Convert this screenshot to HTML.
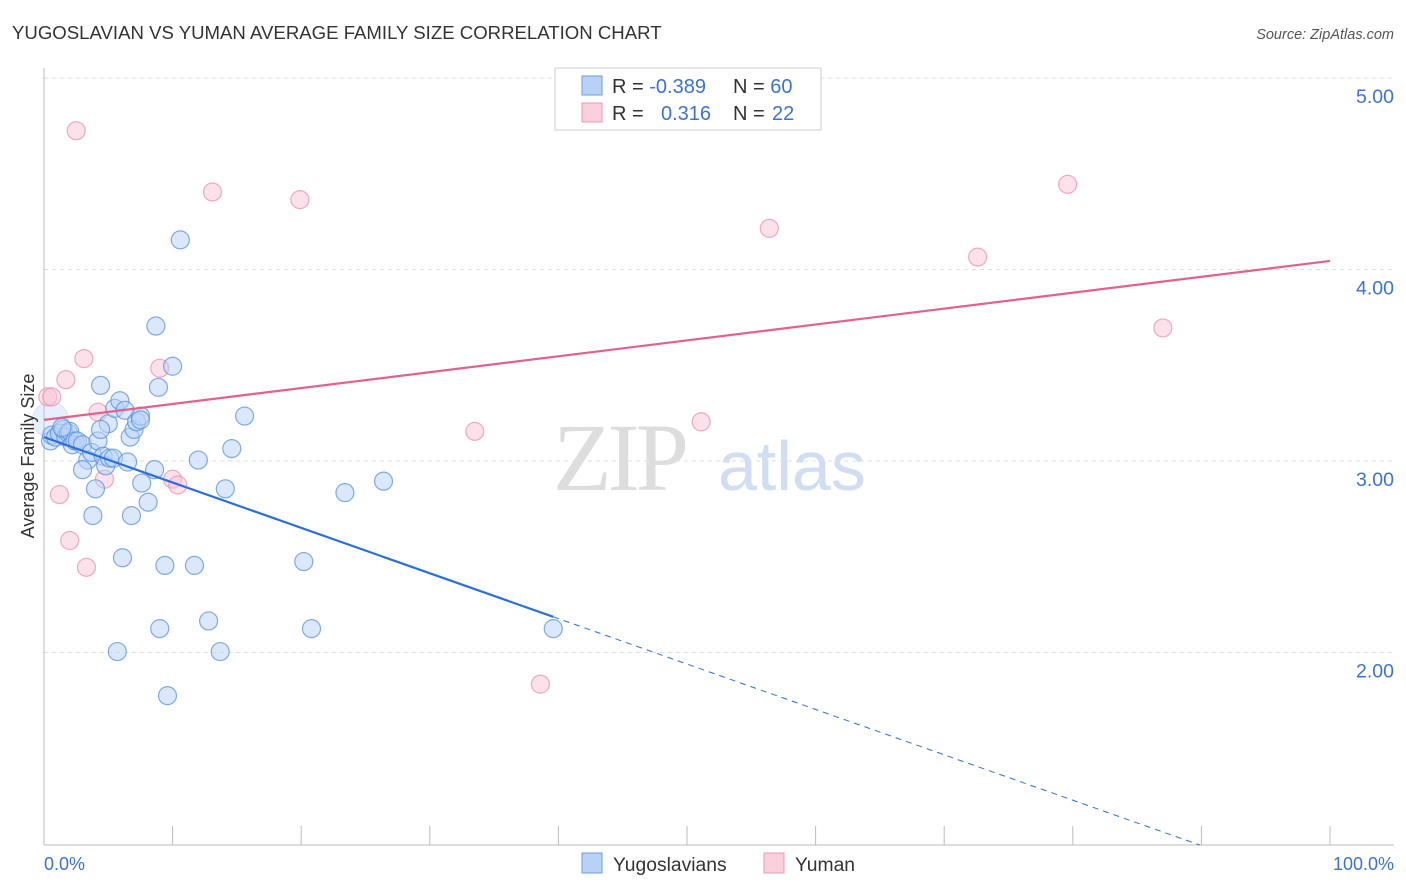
<!DOCTYPE html>
<html><head><meta charset="utf-8"><style>
body{margin:0;background:#fff;font-family:"Liberation Sans",sans-serif;}
svg{display:block}
</style></head><body>
<svg id="chart" width="1406" height="892">
<text x="12" y="39" font-size="18.6" fill="#333">YUGOSLAVIAN VS YUMAN AVERAGE FAMILY SIZE CORRELATION CHART</text>
<text x="1394" y="39" font-size="14.5" fill="#555" text-anchor="end" font-style="italic">Source: ZipAtlas.com</text>
<g>
<text x="553" y="490" font-size="96" fill="#ddd" font-family="Liberation Serif,serif" letter-spacing="-4">ZIP</text>
<text x="718" y="490" font-size="70" fill="#d0def3">atlas</text>
</g>
<g id="grid"></g>
<g id="axes"></g>
<g id="marks"></g>
<text transform="translate(34,456) rotate(-90)" font-size="18" fill="#333" text-anchor="middle">Average Family Size</text>
<text x="44" y="870" font-size="18" fill="#3a72d8">0.0%</text>
<text x="1394" y="870" font-size="18" fill="#3a72d8" text-anchor="end">100.0%</text>
<g>
<rect x="555" y="68" width="266" height="62" fill="#fff" stroke="#ccc"/>
<rect x="582" y="76" width="20" height="19" fill="#b8d2f5" stroke="#6b9de0"/>
<rect x="582" y="103" width="20" height="19" fill="#fbcfdb" stroke="#ee9ab4"/>
<text x="612" y="93" font-size="20" fill="#333">R = <tspan fill="#3a72d8">-0.389</tspan></text>
<text x="733" y="93" font-size="20" fill="#333">N = <tspan fill="#3a72d8">60</tspan></text>
<text x="612" y="120" font-size="20" fill="#333">R = <tspan fill="#3a72d8" x="661">0.316</tspan></text>
<text x="733" y="120" font-size="20" fill="#333">N = <tspan fill="#3a72d8" x="772">22</tspan></text>
</g>
<g>
<rect x="582" y="853" width="20" height="20" fill="#b8d2f5" stroke="#6b9de0"/>
<text x="613" y="871" font-size="19.3" fill="#333">Yugoslavians</text>
<rect x="764" y="853" width="20" height="20" fill="#fbcfdb" stroke="#ee9ab4"/>
<text x="795" y="871" font-size="19.3" fill="#333">Yuman</text>
</g>
</svg>
<script>
const yTicks=[2,3,4,5];
const yTickLabels=["2.00","3.00","4.00","5.00"];
const blueX=[0.5,0.6,0.9,1.2,1.5,1.7,1.9,2.0,2.2,2.4,2.6,3.0,3.4,3.7,4.0,4.2,4.4,4.6,4.8,5.0,5.1,5.4,5.5,5.9,6.1,6.3,6.5,6.7,6.8,7.0,7.2,7.5,7.6,8.1,8.6,8.7,8.9,9.0,9.4,9.6,10.0,10.6,11.7,12.0,12.8,13.7,14.1,14.6,15.6,20.2,20.8,23.4,26.4,39.6,5.7,3.8,3.0,1.4,4.4,7.5];
const blueY=[3.11,3.14,3.13,3.15,3.17,3.13,3.15,3.16,3.09,3.11,3.11,3.09,3.01,3.05,2.86,3.11,3.40,3.03,2.98,3.20,3.02,3.02,3.28,3.32,2.50,3.27,3.00,3.13,2.72,3.17,3.21,3.24,2.89,2.79,2.96,3.71,3.39,2.13,2.46,1.78,3.50,4.16,2.46,3.01,2.17,2.01,2.86,3.07,3.24,2.48,2.13,2.84,2.90,2.13,2.01,2.72,2.96,3.18,3.17,3.22];
const pinkX=[0.3,0.6,1.2,1.7,2.0,2.5,3.1,3.3,4.2,4.7,9.0,10.0,10.4,13.1,19.9,33.5,38.6,51.1,56.4,72.6,79.6,87.0];
const pinkY=[3.34,3.34,2.83,3.43,2.59,4.73,3.54,2.45,3.26,2.91,3.49,2.91,2.88,4.41,4.37,3.16,1.84,3.21,4.22,4.07,4.45,3.70];
const blueTrend=[3.13,-0.0237];
const pinkTrend=[3.22,0.0083];
const NS="http://www.w3.org/2000/svg";
const X0=44,X1=1330,YB=845,PPU=191.5;
const sx=v=>X0+(X1-X0)*v/100;
const sy=v=>YB-(v-1)*PPU;
function mk(tag,attrs,parent){const e=document.createElementNS(NS,tag);for(const k in attrs)e.setAttribute(k,attrs[k]);parent.appendChild(e);return e;}
const grid=document.getElementById('grid'),axes=document.getElementById('axes'),marks=document.getElementById('marks');
yTicks.forEach((t,i)=>{
 const l=mk('line',{x1:X0,x2:1394,y1:sy(t)-1,y2:sy(t)-1,stroke:'#ddd','stroke-dasharray':'4,4'},grid);
 
 
 const tx=mk('text',{x:1394,y:sy(t)+24,'font-size':19.5,fill:'#3a72d8','text-anchor':'end'},axes);
 tx.textContent=yTickLabels[i];
 
 
});
const ya=mk('line',{x1:X0,x2:X0,y1:68,y2:YB,stroke:'#bbb'},axes);


const xa=mk('line',{x1:X0,x2:1394,y1:YB,y2:YB,stroke:'#bbb'},axes);


for(let i=1;i<=10;i++){const t=mk('line',{x1:sx(i*10),x2:sx(i*10),y1:826,y2:YB,stroke:'#bbb'},axes);
 
 }
const big=mk('circle',{cx:sx(0.5),cy:sy(3.22),r:18,fill:'#b8d2f5','fill-opacity':0.35,stroke:'#b8d2f5','stroke-opacity':0.5},marks);


function dots(xs,ys,fill,stroke,name){xs.forEach((x,i)=>{const c=mk('circle',{cx:sx(x),cy:sy(ys[i]),r:9,fill:fill,'fill-opacity':0.5,stroke:stroke,'stroke-opacity':0.75,'stroke-width':1.2},marks);
 
 });}
dots(pinkX,pinkY,'#f8c3d3','#ee8fae','yuman-point');
dots(blueX,blueY,'#b8d2f5','#5a90dc','yugoslavian-point');
const bmax=Math.max(...blueX);
const f=(tr,x)=>tr[0]+tr[1]*x;
const bl=mk('line',{x1:sx(0),y1:sy(f(blueTrend,0)),x2:sx(bmax),y2:sy(f(blueTrend,bmax)),stroke:'#2a6fdb','stroke-width':2.2},marks);


const xEnd=Math.min(100,(1-blueTrend[0])/blueTrend[1]);
const bd=mk('line',{x1:sx(bmax),y1:sy(f(blueTrend,bmax)),x2:sx(xEnd),y2:sy(f(blueTrend,xEnd)),stroke:'#2a6fdb','stroke-width':1,'stroke-dasharray':'6,5'},marks);


const pl=mk('line',{x1:sx(0),y1:sy(f(pinkTrend,0)),x2:sx(100),y2:sy(f(pinkTrend,100)),stroke:'#e5608a','stroke-width':2.2},marks);


</script>
</body></html>
